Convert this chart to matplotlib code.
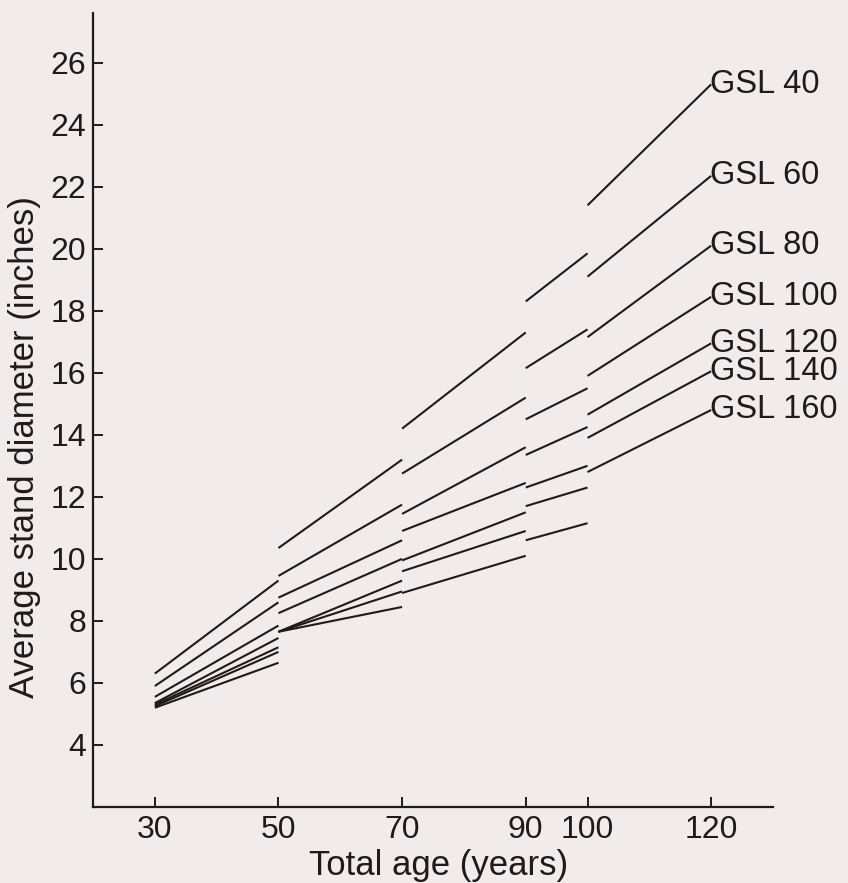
import matplotlib
matplotlib.use("Agg")
import matplotlib.pyplot as plt


# growing-stock levels and the thinning periods (total age, years)
GSL_LEVELS = [40, 60, 80, 100, 120, 140, 160]
PERIODS = [(30, 50), (50, 70), (70, 90), (90, 100), (100, 120)]

# average stand diameter (inches) at start / end of each period, per GSL
DIAM_START = {
    40: [6.3, 10.35, 14.2, 18.3, 21.4],
    60: [5.9, 9.45, 12.75, 16.15, 19.1],
    80: [5.55, 8.75, 11.45, 14.5, 17.15],
    100: [5.35, 8.25, 10.9, 13.35, 15.9],
    120: [5.3, 7.65, 9.95, 12.3, 14.65],
    140: [5.25, 7.65, 9.6, 11.7, 13.9],
    160: [5.2, 7.65, 8.9, 10.6, 12.8],
}
DIAM_END = {
    40: [9.3, 13.2, 17.3, 19.85, 25.3],
    60: [8.6, 11.75, 15.2, 17.4, 22.35],
    80: [7.85, 10.6, 13.6, 15.5, 20.1],
    100: [7.45, 10.0, 12.45, 14.25, 18.45],
    120: [7.15, 9.3, 11.5, 13.0, 16.95],
    140: [7.0, 8.95, 10.9, 12.3, 16.05],
    160: [6.65, 8.45, 10.1, 11.15, 14.8],
}

X_TICKS = [30, 50, 70, 90, 100, 120]
Y_TICKS = [4, 6, 8, 10, 12, 14, 16, 18, 20, 22, 24, 26]

BG = "#f1eceb"
INK = "#1f1b1b"


def plot_chart():
    plt.rcParams["font.family"] = ["Liberation Sans", "DejaVu Sans"]

    fig = plt.figure(figsize=(8.48, 8.83), dpi=100, facecolor=BG)
    ax = fig.add_axes([93 / 848, 76 / 883, 680 / 848, 794 / 883])
    ax.set_facecolor(BG)

    for gsl in GSL_LEVELS:
        for (a0, a1), d0, d1 in zip(PERIODS, DIAM_START[gsl], DIAM_END[gsl]):
            ax.plot([a0, a1], [d0, d1], color=INK, linewidth=1.5,
                    solid_capstyle="butt")
        ax.text(PERIODS[-1][1] - 0.2, DIAM_END[gsl][-1], f"GSL {gsl}",
                fontsize=23.5, color=INK, ha="left", va="center")

    ax.set_xlim(20, 130)
    ax.set_ylim(2, 27.6)
    ax.set_xticks(X_TICKS)
    ax.set_yticks(Y_TICKS)

    for side in ["top", "right"]:
        ax.spines[side].set_visible(False)
    for side in ["left", "bottom"]:
        ax.spines[side].set_linewidth(1.6)
        ax.spines[side].set_color(INK)

    ax.tick_params(direction="in", length=7.5, width=1.4, colors=INK,
                   labelsize=23)
    ax.tick_params(axis="y", pad=5)
    ax.tick_params(axis="x", pad=6)

    ax.set_xlabel("Total age (years)", fontsize=25, color=INK, va="center")
    ax.xaxis.set_label_coords(0.508, -0.074)
    ax.set_ylabel("Average stand diameter (inches)", fontsize=25, color=INK,
                  va="center")
    ax.yaxis.set_label_coords(-0.101, 0.453)

    fig.savefig("out.png", dpi=100, facecolor=BG)
    plt.close(fig)


if __name__ == "__main__":
    plot_chart()
